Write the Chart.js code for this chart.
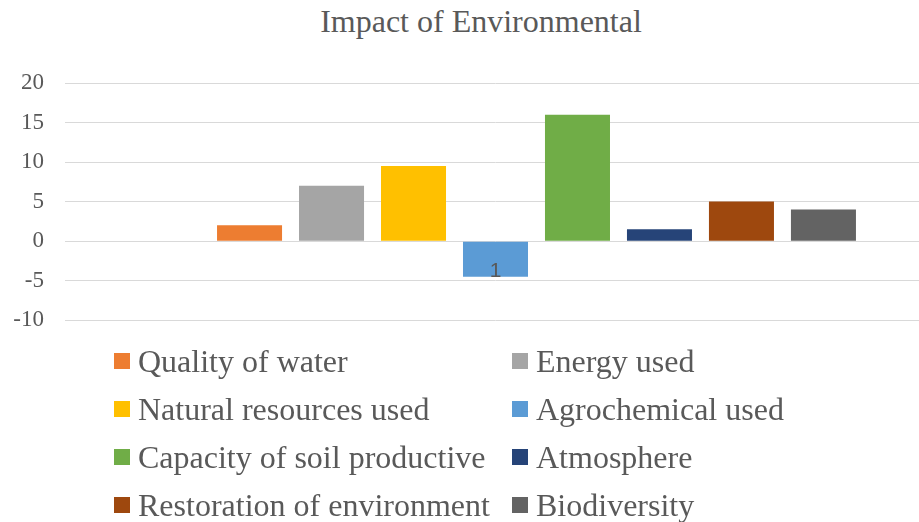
<!DOCTYPE html>
<html>
<head>
<meta charset="utf-8">
<script src="https://cdn.jsdelivr.net/npm/chart.js@4"></script>
<style>
    body { margin: 0; background: #fff; width: 919px; height: 522px; overflow: hidden; position: relative; font-family: "Liberation Serif", "Times New Roman", serif; color: #595959; }
    #title { position: absolute; top: 3px; left: 481px; transform: translateX(-50%); white-space: nowrap; font-size: 32px; line-height: 36px; }
    #wrap { position: absolute; top: 0; left: 0; width: 919px; height: 355px; overflow: hidden; }
    #legend { position: absolute; top: 337px; left: 114px; display: grid; grid-template-columns: 398px 300px; }
    .item { display: flex; align-items: center; height: 48px; font-size: 32px; white-space: nowrap; }
    .box { width: 16px; height: 16px; margin-right: 8px; flex: none; }
</style>
</head>
<body>
<div id="title">Impact of Environmental</div>
<div id="wrap"><canvas id="chart" width="926" height="355"></canvas></div>
<div id="legend"></div>
<script>
// data
const categories = ['1'];
const seriesNames = ['', 'Quality of water', 'Energy used', 'Natural resources used', 'Agrochemical used',
    'Capacity of soil productive', 'Atmosphere', 'Restoration of environment', 'Biodiversity'];
const seriesValues = [null, 2, 7, 9.5, -4.5, 16, 1.5, 5, 4];
const yTicks = [-10, -5, 0, 5, 10, 15, 20];

const colors = ['#4472C4', '#ED7D31', '#A5A5A5', '#FFC000', '#5B9BD5', '#70AD47', '#264478', '#9E480E', '#636363'];

const datasets = seriesNames.map((name, i) => ({
    label: name,
    data: [seriesValues[i]],
    backgroundColor: colors[i],
    borderWidth: 0,
    categoryPercentage: 0.857,
    barPercentage: 0.793
}));

new Chart(document.getElementById('chart'), {
    type: 'bar',
    data: { labels: categories, datasets: datasets },
    options: {
        responsive: false,
        animation: false,
        devicePixelRatio: 1,
        layout: { padding: { top: 83, bottom: 5, left: 0, right: 0 } },
        plugins: { legend: { display: false }, title: { display: false }, tooltip: { enabled: false } },
        scales: {
            x: {
                position: { y: 0 },
                grid: { display: false },
                border: { display: false },
                ticks: { z: 1, color: '#595959', font: { family: 'Liberation Sans', size: 21 }, padding: 9 }
            },
            y: {
                min: yTicks[0],
                max: yTicks[yTicks.length - 1],
                afterFit: s => { s.width = 65; },
                afterBuildTicks: s => { s.ticks = yTicks.map(v => ({ value: v })); },
                grid: { color: '#D9D9D9', lineWidth: 1, drawTicks: false },
                border: { display: false },
                ticks: { color: '#595959', font: { family: 'Liberation Serif', size: 23 }, padding: 21 }
            }
        }
    }
});

// legend, two columns
const legend = document.getElementById('legend');
seriesNames.forEach((name, i) => {
    if (!name) return;
    const item = document.createElement('div');
    item.className = 'item';
    item.innerHTML = '<span class="box" style="background:' + colors[i] + '"></span><span>' + name + '</span>';
    legend.appendChild(item);
});
</script>
</body>
</html>
